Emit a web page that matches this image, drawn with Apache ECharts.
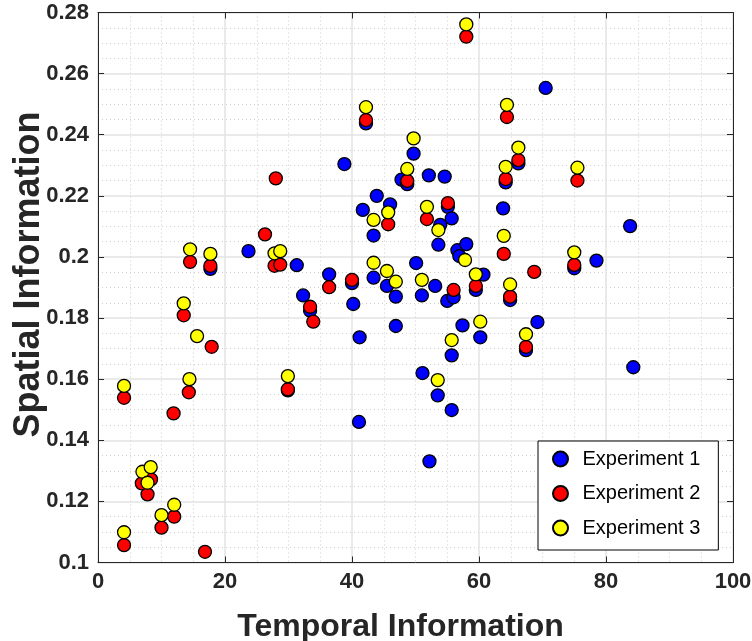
<!DOCTYPE html>
<html>
<head>
<meta charset="utf-8">
<script src="https://cdn.jsdelivr.net/npm/echarts@6/dist/echarts.min.js"></script>
<style>
  html, body { margin: 0; padding: 0; background: #fff; }
  #chart { width: 752px; height: 641px; }
</style>
</head>
<body>
<div id="chart"></div>
<script>
// data: [temporal, spatial]
var exp1 = [
  [17.7, 0.1961], [23.7, 0.2019], [31.3, 0.1973], [32.3, 0.1874], [33.4, 0.1824],
  [36.4, 0.1943], [38.8, 0.2304], [40.0, 0.1914], [40.2, 0.1846], [41.1, 0.1460],
  [41.2, 0.1737], [41.7, 0.2154], [42.2, 0.2437], [43.4, 0.2070], [43.4, 0.1932],
  [43.9, 0.2200], [45.5, 0.1905], [46.0, 0.2172], [46.9, 0.1870], [46.9, 0.1774],
  [47.8, 0.2253], [48.7, 0.2238], [49.7, 0.2338], [50.1, 0.1980], [51.0, 0.1874],
  [51.1, 0.1620], [52.1, 0.2267], [52.2, 0.1331], [53.1, 0.1905], [53.5, 0.1547],
  [53.6, 0.2040], [53.9, 0.2105], [54.6, 0.2263], [55.0, 0.1856], [55.1, 0.2164],
  [55.7, 0.2126], [55.7, 0.1678], [55.7, 0.1499], [56.0, 0.1868], [56.6, 0.2022],
  [56.9, 0.2003], [57.4, 0.1776], [58.0, 0.2042], [59.5, 0.1892], [60.2, 0.1737],
  [60.7, 0.1942], [63.8, 0.2159], [64.2, 0.2244], [64.9, 0.1859], [66.2, 0.2306],
  [67.4, 0.1695], [69.2, 0.1787], [70.5, 0.2553], [75.0, 0.1963], [78.5, 0.1988],
  [83.8, 0.2101], [84.3, 0.1639], [29.9, 0.1563]
];
var exp2 = [
  [4.1, 0.1539], [4.1, 0.1057], [6.9, 0.1259], [7.8, 0.1223], [8.35, 0.1272],
  [10.0, 0.1114], [11.9, 0.1488], [12.0, 0.1150], [13.5, 0.1809], [14.3, 0.1557],
  [14.5, 0.1984], [16.85, 0.1035], [17.7, 0.1971], [17.9, 0.1706], [26.3, 0.2074],
  [27.8, 0.1971], [28.0, 0.2257], [28.7, 0.1975], [29.9, 0.1567], [33.4, 0.1837],
  [33.9, 0.1788], [36.4, 0.1901], [40.0, 0.1925], [42.2, 0.2448], [45.7, 0.2107],
  [48.7, 0.2249], [51.8, 0.2124], [55.1, 0.2176], [56.0, 0.1892], [58.0, 0.2721],
  [59.5, 0.1905], [63.9, 0.2010], [64.2, 0.2255], [64.4, 0.2458], [64.9, 0.1870],
  [66.2, 0.2317], [67.4, 0.1706], [68.7, 0.1951], [75.0, 0.1974], [75.5, 0.2250]
];
var exp3 = [
  [4.1, 0.1578], [4.1, 0.1099], [7.0, 0.1297], [7.8, 0.1261], [8.3, 0.1312],
  [10.0, 0.1155], [12.0, 0.1189], [13.5, 0.1848], [14.4, 0.1600], [14.5, 0.2025],
  [15.6, 0.1741], [17.7, 0.2010], [27.8, 0.2012], [28.7, 0.2019], [29.9, 0.1610],
  [42.2, 0.2490], [43.4, 0.2121], [43.4, 0.1981], [45.5, 0.1954], [45.7, 0.2146],
  [46.9, 0.1919], [48.7, 0.2288], [49.7, 0.2388], [51.0, 0.1925], [51.8, 0.2164],
  [53.5, 0.1597], [53.6, 0.2088], [55.7, 0.1728], [57.8, 0.1990], [58.0, 0.2761],
  [59.5, 0.1943], [60.2, 0.1788], [63.9, 0.2069], [64.2, 0.2295], [64.4, 0.2498],
  [64.9, 0.1910], [66.2, 0.2358], [67.4, 0.1747], [75.0, 0.2015], [75.5, 0.2292]
];
var seriesNames = ['Experiment 1', 'Experiment 2', 'Experiment 3'];
var seriesColors = ['#0000ff', '#ff0000', '#ffff00'];

var axisColor = '#262626';
var fontFam = '"Liberation Sans", Arial, sans-serif';

function mainX() {
  return {
    type: 'value', min: 0, max: 100, interval: 20, position: 'bottom',
    name: 'Temporal Information', nameLocation: 'middle', nameGap: 49, nameMoveOverlap: false,
    nameTextStyle: { fontSize: 32, fontWeight: 'bold', color: axisColor, fontFamily: fontFam, padding: [0, 30, 0, 0] },
    axisLine: { show: true, onZero: false, lineStyle: { color: axisColor, width: 1 } },
    axisTick: { show: true, inside: true, length: 6, lineStyle: { color: axisColor } },
    axisLabel: { fontSize: 22, fontWeight: 'bold', color: axisColor, margin: 8, fontFamily: fontFam },
    splitLine: { show: true, lineStyle: { color: '#e3e3e3', width: 1.5 } },
    minorTick: { show: false, splitNumber: 4 },
    minorSplitLine: { show: true, lineStyle: { color: '#cfcfcf', type: [1, 3], width: 1 } }
  };
}
function mainY() {
  return {
    type: 'value', min: 0.1, max: 0.28, interval: 0.02, position: 'left',
    name: 'Spatial Information', nameLocation: 'middle', nameGap: 51, nameMoveOverlap: false,
    nameTextStyle: { fontSize: 36, fontWeight: 'bold', color: axisColor, fontFamily: fontFam, padding: [0, 0, 0, 26] },
    axisLine: { show: true, onZero: false, lineStyle: { color: axisColor, width: 1 } },
    axisTick: { show: true, inside: true, length: 6, lineStyle: { color: axisColor } },
    axisLabel: {
      fontSize: 22, fontWeight: 'bold', color: axisColor, margin: 9, fontFamily: fontFam,
      formatter: function (v) { return String(+v.toFixed(2)); }
    },
    splitLine: { show: true, lineStyle: { color: '#e3e3e3', width: 1.5 } },
    minorTick: { show: false, splitNumber: 4 },
    minorSplitLine: { show: true, lineStyle: { color: '#cfcfcf', type: [1, 3], width: 1 } }
  };
}
function boxAxis(base, pos) {
  return {
    type: 'value', min: base.min, max: base.max, interval: base.interval, position: pos,
    axisLine: { show: true, onZero: false, lineStyle: { color: axisColor, width: 1 } },
    axisTick: { show: true, inside: true, length: 6, lineStyle: { color: axisColor } },
    axisLabel: { show: false },
    splitLine: { show: false }
  };
}

var xm = mainX(), ym = mainY();
var data = [exp1, exp2, exp3];
var series = data.map(function (d, i) {
  return {
    name: seriesNames[i], type: 'scatter', data: d,
    symbol: 'circle', symbolSize: 13,
    itemStyle: { color: seriesColors[i], borderColor: '#000', borderWidth: 1.3, opacity: 1 },
    emphasis: { disabled: true }
  };
});

var chart = echarts.init(document.getElementById('chart'));
chart.setOption({
  animation: false,
  backgroundColor: '#fff',
  grid: { left: 98, right: 19, top: 12.5, bottom: 78.5, containLabel: false, outerBoundsMode: 'none' },
  xAxis: [xm, boxAxis(xm, 'top')],
  yAxis: [ym, boxAxis(ym, 'right')],
  legend: {
    orient: 'vertical', left: 538, top: 441,
    padding: [8, 18, 12, 14], itemGap: 14.5,
    backgroundColor: '#fff', borderColor: '#000', borderWidth: 1,
    itemWidth: 34, itemHeight: 15, icon: 'circle',
    textStyle: { fontSize: 20, color: '#000', fontFamily: fontFam },
    data: seriesNames
  },
  series: series
});
</script>
</body>
</html>
